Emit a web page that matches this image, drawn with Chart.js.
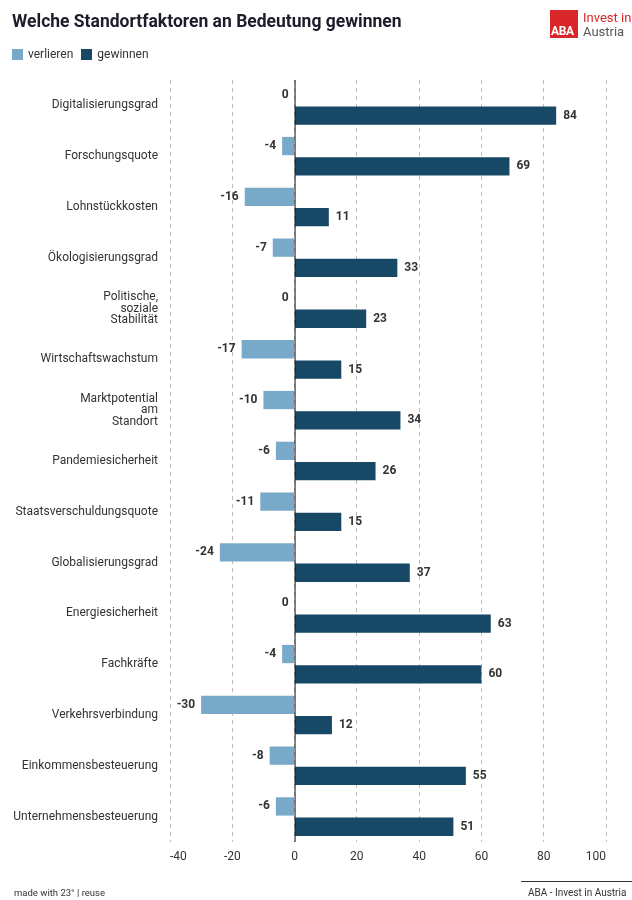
<!DOCTYPE html>
<html>
<head>
<meta charset="utf-8">
<script src="https://cdn.jsdelivr.net/npm/chart.js@4"></script>
<style>
  html, body { margin: 0; padding: 0; background: #fff; }
  body { width: 632px; height: 900px; position: relative; overflow: hidden; font-family: Roboto, "Noto Sans", sans-serif; color: #222; }
  #title { position: absolute; left: 12px; top: 11px; font-size: 17.5px; font-weight: 700; color: #1c1c2a; }
  #legend { position: absolute; left: 12px; top: 47px; font-size: 12px; color: #333; display: flex; align-items: center; }
  #legend .sw { width: 11px; height: 11px; display: inline-block; margin-right: 5px; }
  #legend .item { display: flex; align-items: center; margin-right: 8px; }
  #logo { position: absolute; left: 550px; top: 10px; }
  #logo .box { position: absolute; left: 0; top: 0; width: 28px; height: 28px; background: #d9262b; }
  #logo .aba { position: absolute; left: 1px; top: 14px; font-size: 12px; font-weight: 700; color: #fff; letter-spacing: -0.3px; }
  #logo .t1 { position: absolute; left: 33px; top: 0px; font-size: 13px; color: #d9262b; white-space: nowrap; }
  #logo .t2 { position: absolute; left: 33px; top: 14px; font-size: 13px; color: #555; white-space: nowrap; }
  #wrap { position: absolute; left: 0; top: 0; width: 632px; height: 900px; }
  #foot1 { position: absolute; left: 14px; top: 887px; font-size: 9.5px; color: #333; }
  #foot2 { position: absolute; left: 528px; top: 887px; font-size: 10px; color: #333; white-space: nowrap; }
  #footline { position: absolute; left: 521px; top: 881px; width: 111px; height: 1px; background: #333; }
</style>
</head>
<body>
<div id="wrap"><canvas id="chart"></canvas></div>
<div id="title">Welche Standortfaktoren an Bedeutung gewinnen</div>
<div id="legend">
  <span class="item"><span class="sw" style="background:#78a9c8"></span>verlieren</span>
  <span class="item"><span class="sw" style="background:#174866"></span>gewinnen</span>
</div>
<div id="logo">
  <div class="box"></div><div class="aba">ABA</div>
  <div class="t1">Invest in</div><div class="t2">Austria</div>
</div>
<div id="footline"></div>
<div id="foot1">made with 23° | reuse</div>
<div id="foot2">ABA - Invest in Austria</div>
<script>
const categories = [
  'Digitalisierungsgrad', 'Forschungsquote', 'Lohnstückkosten', 'Ökologisierungsgrad',
  ['Politische,', 'soziale', 'Stabilität'], 'Wirtschaftswachstum',
  ['Marktpotential', 'am', 'Standort'], 'Pandemiesicherheit', 'Staatsverschuldungsquote',
  'Globalisierungsgrad', 'Energiesicherheit', 'Fachkräfte', 'Verkehrsverbindung',
  'Einkommensbesteuerung', 'Unternehmensbesteuerung'
]
const verlieren = [0, -4, -16, -7, 0, -17, -10, -6, -11, -24, 0, -4, -30, -8, -6]
const gewinnen = [84, 69, 11, 33, 23, 15, 34, 26, 15, 37, 63, 60, 12, 55, 51]
const xTicks = [-40, -20, 0, 20, 40, 60, 80, 100]

const lightBlue = '#78a9c8'
const darkBlue = '#174866'

// category labels (right aligned, also multi-line), value labels and the solid zero line
const barLabels = {
  id: 'barLabels',
  afterDatasetsDraw(chart) {
    const ctx = chart.ctx
    const area = chart.chartArea
    const xScale = chart.scales.x
    const yScale = chart.scales.y
    const x0 = xScale.getPixelForValue(0)
    ctx.save()
    ctx.strokeStyle = '#111'
    ctx.lineWidth = 1
    ctx.beginPath()
    ctx.moveTo(x0 + 0.5, area.top)
    ctx.lineTo(x0 + 0.5, area.bottom)
    ctx.stroke()

    ctx.font = '12px Roboto'
    ctx.fillStyle = '#333'
    ctx.textAlign = 'right'
    ctx.textBaseline = 'middle'
    const lh = 11.5
    chart.data.labels.forEach((label, i) => {
      const lines = Array.isArray(label) ? label : [label]
      const yc = yScale.getPixelForValue(i)
      lines.forEach((line, k) => {
        ctx.fillText(line, area.left - 12, yc + (k - (lines.length - 1) / 2) * lh)
      })
    })

    ctx.font = 'bold 12px Roboto'
    chart.data.datasets.forEach((ds, i) => {
      chart.getDatasetMeta(i).data.forEach((bar, j) => {
        const v = ds.data[j]
        if (v <= 0) {
          ctx.textAlign = 'right'
          ctx.fillText(String(v), bar.x - 6, bar.y)
        } else {
          ctx.textAlign = 'left'
          ctx.fillText(String(v), bar.x + 7, bar.y)
        }
      })
    })
    ctx.restore()
  }
}

new Chart(document.getElementById('chart').getContext('2d'), {
  type: 'bar',
  data: {
    labels: categories,
    datasets: [
      { label: 'verlieren', data: verlieren, backgroundColor: lightBlue },
      { label: 'gewinnen', data: gewinnen, backgroundColor: darkBlue },
    ],
  },
  options: {
    indexAxis: 'y',
    responsive: true,
    maintainAspectRatio: false,
    animation: false,
    categoryPercentage: 0.8,
    barPercentage: 0.9,
    layout: { padding: { top: 80, right: 26, bottom: 28, left: 0 } },
    plugins: { legend: { display: false }, tooltip: { enabled: false } },
    scales: {
      x: {
        min: -40,
        max: 100,
        afterBuildTicks: (scale) => { scale.ticks = xTicks.map(v => ({ value: v })) },
        afterFit: (scale) => { scale.height = 30 },
        grid: { color: '#bdbdbd', drawTicks: false },
        border: { display: false, dash: [4, 4] },
        ticks: { color: '#333', font: { family: 'Roboto', size: 12 }, padding: 8, align: 'inner' },
      },
      y: {
        afterFit: (scale) => { scale.width = 170 },
        grid: { display: false },
        border: { display: false },
        ticks: { display: false },
      },
    },
  },
  plugins: [barLabels],
})
</script>
</body>
</html>
